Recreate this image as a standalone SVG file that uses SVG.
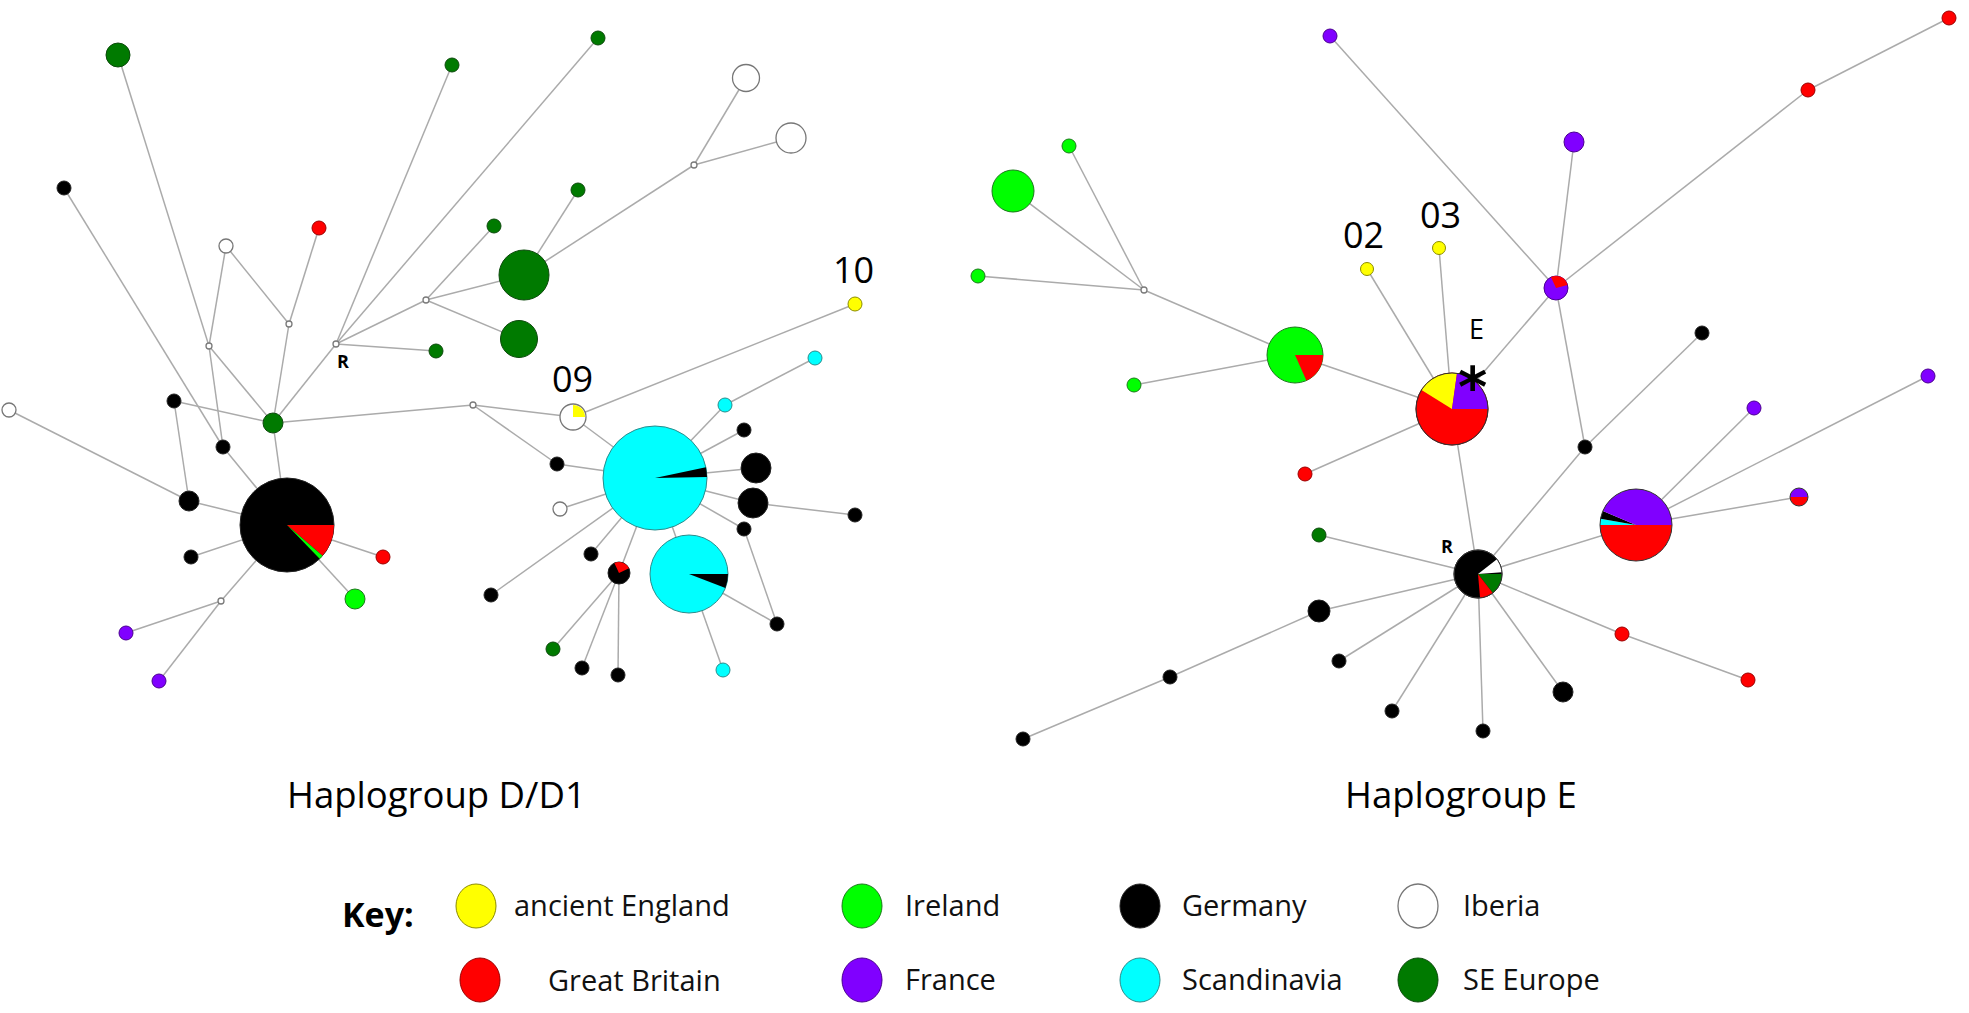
<svg xmlns="http://www.w3.org/2000/svg" width="1969" height="1013" viewBox="0 0 1969 1013">
<style>
.e{stroke:#ababab;stroke-width:1.5;fill:none}
.med{fill:#fff;stroke:#7a7a7a;stroke-width:1.3}
.Y{fill:#ffff00;stroke:#8c8c00;stroke-width:1}
.Rd{fill:#ff0000;stroke:#9a0000;stroke-width:1}
.LG{fill:#00ff00;stroke:#1c7a1c;stroke-width:1}
.P{fill:#8000ff;stroke:#4a0090;stroke-width:1}
.K{fill:#000;stroke:#222;stroke-width:1}
.C{fill:#00ffff;stroke:#2a8c8c;stroke-width:1}
.W{fill:#fff;stroke:#777;stroke-width:1.3}
.DG{fill:#007a00;stroke:#0c4a0c;stroke-width:1}
.ns{stroke:none}
.ol{fill:none;stroke:#333;stroke-width:1}
.lab{font-family:"Open Sans","Liberation Sans",sans-serif;fill:#000}
.num{font-size:36px}
.ttl{font-size:36.5px}
.leg{font-size:29px;fill:#111}
.bold{font-weight:bold}
</style>
<rect width="1969" height="1013" fill="#fff"/>
<g id="connectors">
<line class="e" x1="64" y1="188" x2="223" y2="447"/>
<line class="e" x1="118" y1="55" x2="209" y2="346"/>
<line class="e" x1="226" y1="246" x2="209" y2="346"/>
<line class="e" x1="226" y1="246" x2="289" y2="324"/>
<line class="e" x1="319" y1="228" x2="289" y2="324"/>
<line class="e" x1="209" y1="346" x2="223" y2="447"/>
<line class="e" x1="209" y1="346" x2="273" y2="423"/>
<line class="e" x1="289" y1="324" x2="273" y2="423"/>
<line class="e" x1="336" y1="344" x2="273" y2="423"/>
<line class="e" x1="336" y1="344" x2="452" y2="65"/>
<line class="e" x1="336" y1="344" x2="598" y2="38"/>
<line class="e" x1="336" y1="344" x2="426" y2="300"/>
<line class="e" x1="336" y1="344" x2="436" y2="351"/>
<line class="e" x1="426" y1="300" x2="494" y2="226"/>
<line class="e" x1="426" y1="300" x2="524" y2="275"/>
<line class="e" x1="426" y1="300" x2="519" y2="339"/>
<line class="e" x1="524" y1="275" x2="578" y2="190"/>
<line class="e" x1="524" y1="275" x2="694" y2="165"/>
<line class="e" x1="694" y1="165" x2="746" y2="78"/>
<line class="e" x1="694" y1="165" x2="791" y2="138"/>
<line class="e" x1="273" y1="423" x2="174" y2="401"/>
<line class="e" x1="273" y1="423" x2="473" y2="405"/>
<line class="e" x1="273" y1="423" x2="287" y2="525"/>
<line class="e" x1="174" y1="401" x2="189" y2="501"/>
<line class="e" x1="9" y1="410" x2="189" y2="501"/>
<line class="e" x1="189" y1="501" x2="287" y2="525"/>
<line class="e" x1="223" y1="447" x2="287" y2="525"/>
<line class="e" x1="287" y1="525" x2="191" y2="557"/>
<line class="e" x1="287" y1="525" x2="383" y2="557"/>
<line class="e" x1="287" y1="525" x2="355" y2="599"/>
<line class="e" x1="287" y1="525" x2="221" y2="601"/>
<line class="e" x1="221" y1="601" x2="126" y2="633"/>
<line class="e" x1="221" y1="601" x2="159" y2="681"/>
<line class="e" x1="473" y1="405" x2="573" y2="417"/>
<line class="e" x1="473" y1="405" x2="557" y2="464"/>
<line class="e" x1="573" y1="417" x2="855" y2="304"/>
<line class="e" x1="573" y1="417" x2="655" y2="478"/>
<line class="e" x1="655" y1="478" x2="557" y2="464"/>
<line class="e" x1="655" y1="478" x2="560" y2="509"/>
<line class="e" x1="655" y1="478" x2="491" y2="595"/>
<line class="e" x1="655" y1="478" x2="591" y2="554"/>
<line class="e" x1="655" y1="478" x2="619" y2="573"/>
<line class="e" x1="655" y1="478" x2="725" y2="405"/>
<line class="e" x1="725" y1="405" x2="815" y2="358"/>
<line class="e" x1="655" y1="478" x2="744" y2="430"/>
<line class="e" x1="655" y1="478" x2="756" y2="468"/>
<line class="e" x1="655" y1="478" x2="753" y2="503"/>
<line class="e" x1="753" y1="503" x2="855" y2="515"/>
<line class="e" x1="655" y1="478" x2="744" y2="529"/>
<line class="e" x1="744" y1="529" x2="777" y2="624"/>
<line class="e" x1="655" y1="478" x2="689" y2="574"/>
<line class="e" x1="689" y1="574" x2="777" y2="624"/>
<line class="e" x1="689" y1="574" x2="723" y2="670"/>
<line class="e" x1="619" y1="573" x2="553" y2="649"/>
<line class="e" x1="619" y1="573" x2="582" y2="668"/>
<line class="e" x1="619" y1="573" x2="618" y2="675"/>
<line class="e" x1="1330" y1="36" x2="1556" y2="288"/>
<line class="e" x1="1949" y1="18" x2="1808" y2="90"/>
<line class="e" x1="1808" y1="90" x2="1556" y2="288"/>
<line class="e" x1="1574" y1="142" x2="1556" y2="288"/>
<line class="e" x1="1556" y1="288" x2="1452" y2="409"/>
<line class="e" x1="1556" y1="288" x2="1585" y2="447"/>
<line class="e" x1="1702" y1="333" x2="1585" y2="447"/>
<line class="e" x1="1585" y1="447" x2="1478" y2="574"/>
<line class="e" x1="1452" y1="409" x2="1478" y2="574"/>
<line class="e" x1="1452" y1="409" x2="1367" y2="269"/>
<line class="e" x1="1452" y1="409" x2="1439" y2="248"/>
<line class="e" x1="1452" y1="409" x2="1295" y2="355"/>
<line class="e" x1="1452" y1="409" x2="1305" y2="474"/>
<line class="e" x1="1295" y1="355" x2="1144" y2="290"/>
<line class="e" x1="1295" y1="355" x2="1134" y2="385"/>
<line class="e" x1="1144" y1="290" x2="1069" y2="146"/>
<line class="e" x1="1144" y1="290" x2="1013" y2="191"/>
<line class="e" x1="1144" y1="290" x2="978" y2="276"/>
<line class="e" x1="1478" y1="574" x2="1319" y2="535"/>
<line class="e" x1="1478" y1="574" x2="1319" y2="611"/>
<line class="e" x1="1319" y1="611" x2="1170" y2="677"/>
<line class="e" x1="1170" y1="677" x2="1023" y2="739"/>
<line class="e" x1="1478" y1="574" x2="1339" y2="661"/>
<line class="e" x1="1478" y1="574" x2="1392" y2="711"/>
<line class="e" x1="1478" y1="574" x2="1483" y2="731"/>
<line class="e" x1="1478" y1="574" x2="1563" y2="692"/>
<line class="e" x1="1478" y1="574" x2="1622" y2="634"/>
<line class="e" x1="1622" y1="634" x2="1748" y2="680"/>
<line class="e" x1="1478" y1="574" x2="1636" y2="525"/>
<line class="e" x1="1636" y1="525" x2="1754" y2="408"/>
<line class="e" x1="1636" y1="525" x2="1928" y2="376"/>
<line class="e" x1="1636" y1="525" x2="1799" y2="497"/>
</g>

<!-- Left network: Haplogroup D/D1 -->
<g id="d-n1"><circle class="DG" cx="118" cy="55" r="12"/></g>
<g id="d-n2"><circle class="DG" cx="452" cy="65" r="7"/></g>
<g id="d-n3"><circle class="DG" cx="598" cy="38" r="7"/></g>
<g id="d-n4"><circle class="K" cx="64" cy="188" r="7"/></g>
<g id="d-n5"><circle class="Rd" cx="319" cy="228" r="7"/></g>
<g id="d-n6"><circle class="W" cx="226" cy="246" r="7"/></g>
<g id="d-m1"><circle class="med" cx="209" cy="346" r="3"/></g>
<g id="d-m2"><circle class="med" cx="289" cy="324" r="3"/></g>
<g id="d-R"><circle class="med" cx="336" cy="344" r="3"/><text class="lab bold" x="337" y="368" font-size="18">R</text></g>
<g id="d-m3"><circle class="med" cx="426" cy="300" r="3"/></g>
<g id="d-n7"><circle class="DG" cx="436" cy="351" r="7"/></g>
<g id="d-n8"><circle class="DG" cx="494" cy="226" r="7"/></g>
<g id="d-n9"><circle class="DG" cx="578" cy="190" r="7"/></g>
<g id="d-n10"><circle class="DG" cx="524" cy="275" r="25"/></g>
<g id="d-n11"><circle class="DG" cx="519" cy="339" r="18.5"/></g>
<g id="d-m4"><circle class="med" cx="694" cy="165" r="3"/></g>
<g id="d-n12"><circle class="W" cx="746" cy="78" r="13.5"/></g>
<g id="d-n13"><circle class="W" cx="791" cy="138" r="15"/></g>
<g id="d-n14"><circle class="W" cx="9" cy="410" r="7"/></g>
<g id="d-n15"><circle class="K" cx="174" cy="401" r="7"/></g>
<g id="d-n16"><circle class="DG" cx="273" cy="423" r="10"/></g>
<g id="d-m5"><circle class="med" cx="473" cy="405" r="3"/></g>
<g id="d-n17"><circle class="K" cx="223" cy="447" r="7"/></g>
<g id="d-n18"><circle class="K" cx="189" cy="501" r="10"/></g>
<g id="d-n19">
<circle class="K" cx="287" cy="525" r="47"/>
<path class="ns" fill="#ff0000" d="M287,525 L334,525 A47,47 0 0,1 322.47,555.84 Z"/>
<path class="ns" fill="#00ff00" d="M287,525 L322.47,555.84 A47,47 0 0,1 319.65,558.81 Z"/>
</g>
<g id="d-n20"><circle class="K" cx="191" cy="557" r="7"/></g>
<g id="d-n21"><circle class="Rd" cx="383" cy="557" r="7"/></g>
<g id="d-n22"><circle class="LG" cx="355" cy="599" r="10"/></g>
<g id="d-m6"><circle class="med" cx="221" cy="601" r="3"/></g>
<g id="d-n23"><circle class="P" cx="126" cy="633" r="7"/></g>
<g id="d-n24"><circle class="P" cx="159" cy="681" r="7"/></g>
<g id="d-n09">
<circle class="W" cx="573" cy="417" r="13"/>
<path class="ns" fill="#ffff00" d="M573,417 L573,405 A12,12 0 0,1 585,417 Z"/>
<text class="lab num" x="552" y="392">09</text>
</g>
<g id="d-n10y"><circle class="Y" cx="855" cy="304" r="7"/><text class="lab num" x="833" y="283">10</text></g>
<g id="d-n25"><circle class="C" cx="815" cy="358" r="7"/></g>
<g id="d-n26">
<circle class="C" cx="655" cy="478" r="52"/>
<path class="ns" fill="#000" d="M655,478 L705.86,467.19 A52,52 0 0,1 706.99,477.09 Z"/>
</g>
<g id="d-n27"><circle class="C" cx="725" cy="405" r="7"/></g>
<g id="d-n28"><circle class="K" cx="744" cy="430" r="7"/></g>
<g id="d-n29"><circle class="K" cx="756" cy="468" r="15"/></g>
<g id="d-n30"><circle class="K" cx="753" cy="503" r="15"/></g>
<g id="d-n31"><circle class="K" cx="855" cy="515" r="7"/></g>
<g id="d-n32"><circle class="K" cx="744" cy="529" r="7"/></g>
<g id="d-n33"><circle class="K" cx="777" cy="624" r="7"/></g>
<g id="d-n34">
<circle class="C" cx="689" cy="574" r="39"/>
<path class="ns" fill="#000" d="M689,574 L728,574 A39,39 0 0,1 725.41,587.98 Z"/>
</g>
<g id="d-n35"><circle class="C" cx="723" cy="670" r="7"/></g>
<g id="d-n36"><circle class="K" cx="557" cy="464" r="7"/></g>
<g id="d-n37"><circle class="W" cx="560" cy="509" r="7"/></g>
<g id="d-n38"><circle class="K" cx="591" cy="554" r="7"/></g>
<g id="d-n39">
<circle class="K" cx="619" cy="573" r="11"/>
<path class="ns" fill="#ff0000" d="M619,573 L614.35,563.03 A11,11 0 0,1 628.97,568.35 Z"/>
</g>
<g id="d-n40"><circle class="K" cx="491" cy="595" r="7"/></g>
<g id="d-n41"><circle class="DG" cx="553" cy="649" r="7"/></g>
<g id="d-n42"><circle class="K" cx="582" cy="668" r="7"/></g>
<g id="d-n43"><circle class="K" cx="618" cy="675" r="7"/></g>

<!-- Right network: Haplogroup E -->
<g id="e-n1"><circle class="P" cx="1330" cy="36" r="7"/></g>
<g id="e-n2"><circle class="Rd" cx="1949" cy="18" r="7"/></g>
<g id="e-n3"><circle class="Rd" cx="1808" cy="90" r="7"/></g>
<g id="e-n4"><circle class="P" cx="1574" cy="142" r="10"/></g>
<g id="e-n5">
<circle class="P" cx="1556" cy="288" r="12"/>
<path class="ns" fill="#ff0000" d="M1556,288 L1550.93,277.12 A12,12 0 0,1 1567.59,284.89 Z"/>
</g>
<g id="e-n6"><circle class="LG" cx="1069" cy="146" r="7"/></g>
<g id="e-n7"><circle class="LG" cx="1013" cy="191" r="21"/></g>
<g id="e-n8"><circle class="LG" cx="978" cy="276" r="7"/></g>
<g id="e-m1"><circle class="med" cx="1144" cy="290" r="3"/></g>
<g id="e-n9">
<circle class="LG" cx="1295" cy="355" r="28"/>
<path class="ns" fill="#ff0000" d="M1295,355 L1323,355 A28,28 0 0,1 1306.39,380.58 Z"/>
</g>
<g id="e-n10"><circle class="LG" cx="1134" cy="385" r="7"/></g>
<g id="e-n02"><circle class="Y" cx="1367" cy="269" r="6.5"/><text class="lab num" x="1343" y="248">02</text></g>
<g id="e-n03"><circle class="Y" cx="1439" cy="248" r="6.5"/><text class="lab num" x="1420" y="228">03</text></g>
<g id="e-nE">
<circle class="Rd" cx="1452" cy="409" r="36"/>
<path class="ns" fill="#ffff00" d="M1452,409 L1421.47,389.92 A36,36 0 0,1 1457.01,373.35 Z"/>
<path class="ns" fill="#8000ff" d="M1452,409 L1457.01,373.35 A36,36 0 0,1 1488,409 Z"/>
<circle class="ol" cx="1452" cy="409" r="36"/>
<text class="lab" x="1469" y="339" font-size="27">E</text>
<text x="1458" y="406" font-family="DejaVu Sans, sans-serif" font-weight="bold" font-size="56" fill="#000">*</text>
</g>
<g id="e-n11"><circle class="Rd" cx="1305" cy="474" r="7"/></g>
<g id="e-n12"><circle class="K" cx="1702" cy="333" r="7"/></g>
<g id="e-n13"><circle class="K" cx="1585" cy="447" r="7"/></g>
<g id="e-R">
<circle class="K" cx="1478" cy="574" r="24"/>
<path class="ns" fill="#ffffff" d="M1478,574 L1496.91,559.22 A24,24 0 0,1 1501.94,572.33 Z"/>
<path class="ns" fill="#007a00" d="M1478,574 L1502,574 A24,24 0 0,1 1492.78,592.91 Z"/>
<path class="ns" fill="#ff0000" d="M1478,574 L1492.78,592.91 A24,24 0 0,1 1480.09,597.91 Z"/>
<circle class="ol" cx="1478" cy="574" r="24"/>
<text class="lab bold" x="1441" y="553" font-size="18">R</text>
</g>
<g id="e-n14"><circle class="DG" cx="1319" cy="535" r="7"/></g>
<g id="e-n15"><circle class="K" cx="1319" cy="611" r="11"/></g>
<g id="e-n16"><circle class="K" cx="1170" cy="677" r="7"/></g>
<g id="e-n17"><circle class="K" cx="1023" cy="739" r="7"/></g>
<g id="e-n18"><circle class="K" cx="1339" cy="661" r="7"/></g>
<g id="e-n19"><circle class="K" cx="1392" cy="711" r="7"/></g>
<g id="e-n20"><circle class="K" cx="1483" cy="731" r="7"/></g>
<g id="e-n21"><circle class="K" cx="1563" cy="692" r="10"/></g>
<g id="e-n22"><circle class="Rd" cx="1622" cy="634" r="7"/></g>
<g id="e-n23"><circle class="Rd" cx="1748" cy="680" r="7"/></g>
<g id="e-n24">
<path class="ns" fill="#ff0000" d="M1636,525 L1672,525 A36,36 0 0,1 1600,525 Z"/>
<path class="ns" fill="#00ffff" d="M1636,525 L1600,525 A36,36 0 0,1 1600.55,518.75 Z"/>
<path class="ns" fill="#000" d="M1636,525 L1600.55,518.75 A36,36 0 0,1 1602.86,510.93 Z"/>
<path class="ns" fill="#8000ff" d="M1636,525 L1602.86,510.93 A36,36 0 0,1 1672,525 Z"/>
<circle class="ol" cx="1636" cy="525" r="36"/>
</g>
<g id="e-n25"><circle class="P" cx="1754" cy="408" r="7"/></g>
<g id="e-n26"><circle class="P" cx="1928" cy="376" r="7"/></g>
<g id="e-n27">
<path class="ns" fill="#8000ff" d="M1790,497 A9,9 0 0,1 1808,497 Z"/>
<path class="ns" fill="#ff0000" d="M1808,497 A9,9 0 0,1 1790,497 Z"/>
<circle class="ol" cx="1799" cy="497" r="9"/>
</g>

<!-- Titles -->
<text class="lab ttl" x="287" y="808">Haplogroup D/D1</text>
<text class="lab ttl" x="1345" y="808">Haplogroup E</text>

<!-- Key -->
<g id="key">
<text class="lab bold" x="342" y="927" font-size="34">Key:</text>
<g id="key-yellow"><ellipse class="Y" cx="476" cy="906" rx="20" ry="22"/><text class="lab leg" x="514" y="916">ancient England</text></g>
<g id="key-red"><ellipse class="Rd" cx="480" cy="980" rx="20" ry="22"/><text class="lab leg" x="548" y="991">Great Britain</text></g>
<g id="key-ireland"><ellipse class="LG" cx="862" cy="906" rx="20" ry="22"/><text class="lab leg" x="905" y="916">Ireland</text></g>
<g id="key-france"><ellipse class="P" cx="862" cy="980" rx="20" ry="22"/><text class="lab leg" x="905" y="990">France</text></g>
<g id="key-germany"><ellipse class="K" cx="1140" cy="906" rx="20" ry="22"/><text class="lab leg" x="1182" y="916">Germany</text></g>
<g id="key-scand"><ellipse class="C" cx="1140" cy="980" rx="20" ry="22"/><text class="lab leg" x="1182" y="990">Scandinavia</text></g>
<g id="key-iberia"><ellipse class="W" cx="1418" cy="906" rx="20" ry="22"/><text class="lab leg" x="1463" y="916">Iberia</text></g>
<g id="key-se"><ellipse class="DG" cx="1418" cy="980" rx="20" ry="22"/><text class="lab leg" x="1463" y="990">SE Europe</text></g>
</g>
</svg>
